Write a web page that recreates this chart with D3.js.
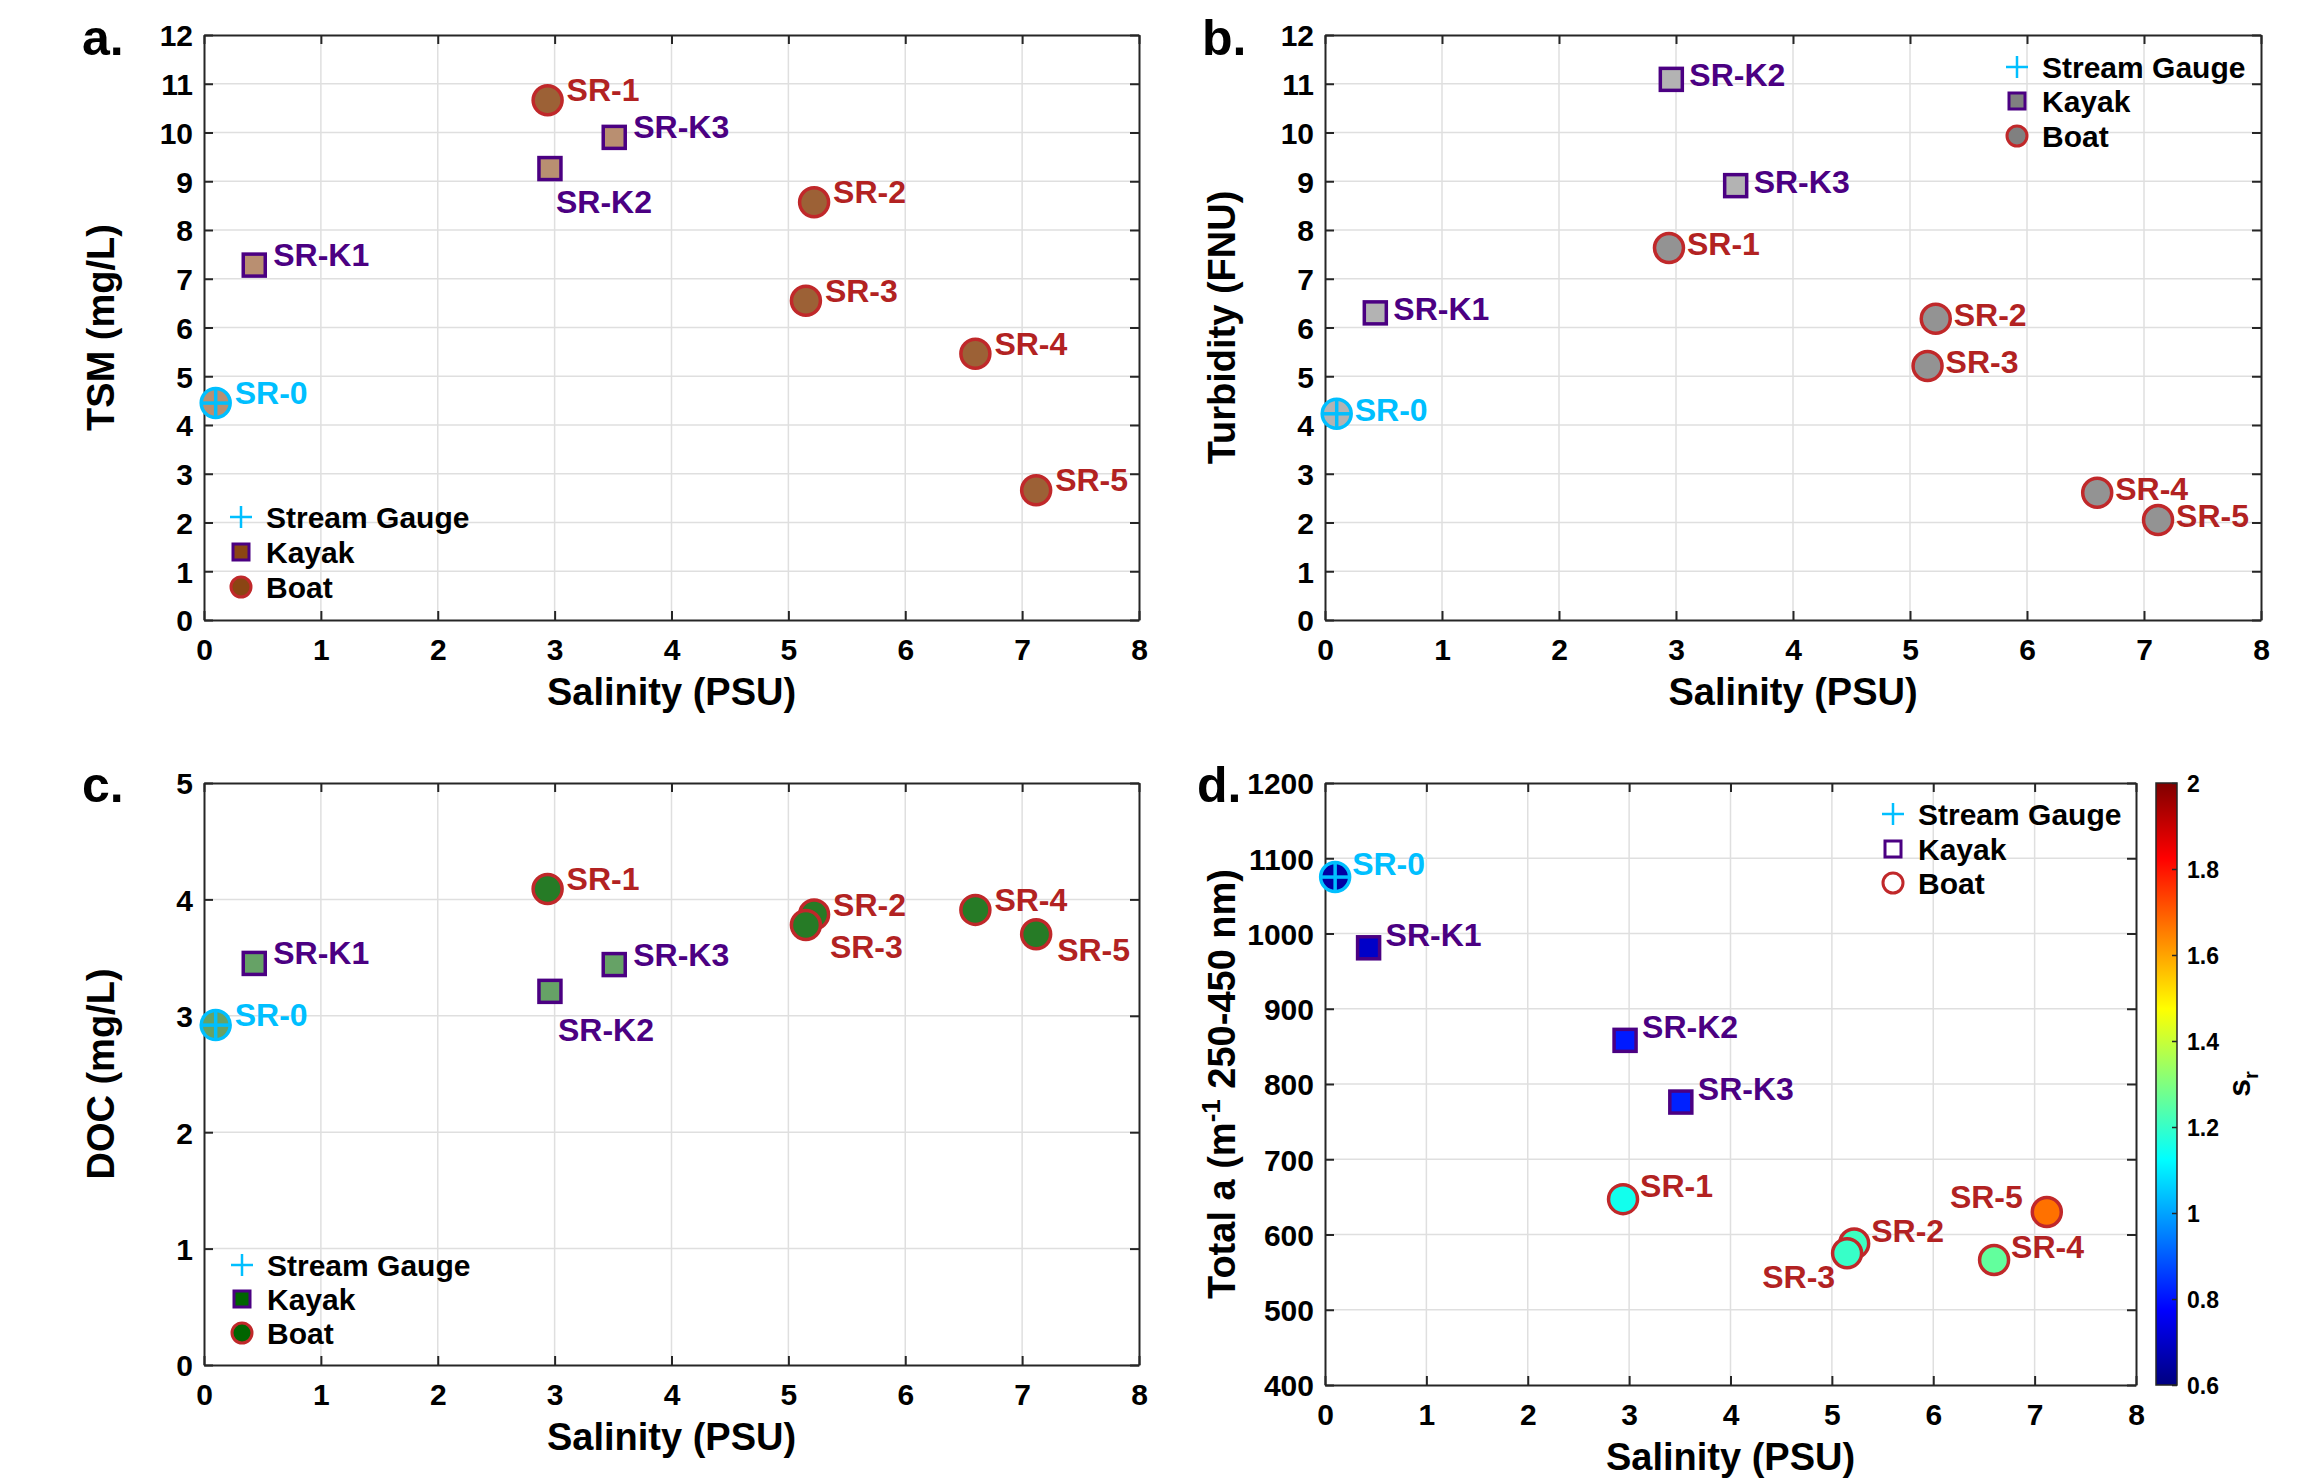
<!DOCTYPE html>
<html><head><meta charset="utf-8">
<script src="https://cdn.jsdelivr.net/npm/d3@7"></script>
<style>
body{margin:0;background:#fff}
text{font-family:"Liberation Sans",Arial,Helvetica,sans-serif;font-weight:bold}
</style>
</head><body>
<script>
// ---------------- DATA ----------------
const stations  = ["SR-0","SR-K1","SR-K2","SR-K3","SR-1","SR-2","SR-3","SR-4","SR-5"];
const platform  = ["Stream Gauge","Kayak","Kayak","Kayak","Boat","Boat","Boat","Boat","Boat"];
const salinity  = [0.10, 0.43, 2.96, 3.51, 2.94, 5.22, 5.15, 6.60, 7.12];
const tsm       = [4.45, 7.28, 9.26, 9.90, 10.66, 8.57, 6.55, 5.46, 2.66];
const turbidity = [4.23, 6.30, 11.09, 8.91, 7.63, 6.18, 5.21, 2.61, 2.05];
const doc       = [2.92, 3.45, 3.21, 3.44, 4.09, 3.87, 3.78, 3.91, 3.70];
const totalA    = [1075, 981, 858, 776, 647, 588, 575, 566, 630];
const sr        = [0.65, 0.70, 0.81, 0.82, 1.15, 1.21, 1.20, 1.26, 1.67];

const xTicks   = [0,1,2,3,4,5,6,7,8];
const yTicksA  = [0,1,2,3,4,5,6,7,8,9,10,11,12];
const yTicksB  = [0,1,2,3,4,5,6,7,8,9,10,11,12];
const yTicksC  = [0,1,2,3,4,5];
const yTicksD  = [400,500,600,700,800,900,1000,1100,1200];
const cbTicks  = [0.6,0.8,1,1.2,1.4,1.6,1.8,2];
const legendLabels = ["Stream Gauge","Kayak","Boat"];

// ---------------- STYLE ----------------
const W = 2304, H = 1481;
const AX = "#262626", GRID = "#dfdfdf";
const CYAN = "#00BFFF", PURPLE = "#4B0082", BOATEDGE = "#C0282A", BOATTXT = "#B22222";
const FONT_TICK = 30, FONT_TITLE = 38, FONT_LAB = 32, FONT_LEG = 30, FONT_LETTER = 50;

function jet(v){
  const t = Math.max(0, Math.min(1, v));
  const c = x => Math.max(0, Math.min(1, x));
  return d3.rgb(255*c(1.5-Math.abs(4*t-3)), 255*c(1.5-Math.abs(4*t-2)), 255*c(1.5-Math.abs(4*t-1))).formatHex();
}
const srColor = d3.scaleLinear().domain([0.6, 2]).range([0,1]);

const svg = d3.select("body").append("svg").attr("width", W).attr("height", H);

const panels = [
  {letter:"a.", vals:tsm, ydom:[0,12], yt:yTicksA, title:"TSM (mg/L)",
   box:{l:204,r:1139,t:35,b:620}, base:"#8B4513", leg:{corner:"bl", dx:37, rows:[-103,-68,-33]},
   lab:{def:[19,1,"start"], "SR-K2":[6,44,"start"]}},
  {letter:"b.", vals:turbidity, ydom:[0,12], yt:yTicksB, title:"Turbidity (FNU)",
   box:{l:1325,r:2261,t:35,b:620}, base:"#808080", leg:{corner:"tr", dx:-244, rows:[32,66,101]},
   lab:{def:[18,7,"start"]}},
  {letter:"c.", vals:doc, ydom:[0,5], yt:yTicksC, title:"DOC (mg/L)",
   box:{l:204,r:1139,t:783,b:1365}, base:"#006400", leg:{corner:"bl", dx:38, rows:[-100,-66,-32]},
   lab:{def:[19,1,"start"], "SR-K2":[8,50,"start"], "SR-3":[24,33,"start"], "SR-5":[21,27,"start"]}},
  {letter:"d.", vals:totalA, ydom:[400,1200], yt:yTicksD, title:null,
   box:{l:1325,r:2136,t:783,b:1385}, base:null, leg:{corner:"tr", dx:-243, rows:[31,66,100]},
   lab:{def:[17,-2,"start"], "SR-3":[-12,35,"end"], "SR-5":[-24,-4,"end"]}}
];

function labelColor(p){ return p==="Stream Gauge" ? CYAN : (p==="Kayak" ? PURPLE : BOATTXT); }
function edgeColor(p){ return p==="Stream Gauge" ? CYAN : (p==="Kayak" ? PURPLE : BOATEDGE); }

panels.forEach((P, pi) => {
  const g = svg.append("g");
  const {l,r,t,b} = P.box;
  const x = d3.scaleLinear().domain([0,8]).range([l,r]);
  const y = d3.scaleLinear().domain(P.ydom).range([b,t]);

  // grid
  g.selectAll(null).data(xTicks.slice(1,-1)).enter().append("line")
    .attr("x1", d=>x(d)).attr("x2", d=>x(d)).attr("y1", t).attr("y2", b)
    .attr("stroke", GRID).attr("stroke-width", 1.5);
  g.selectAll(null).data(P.yt.slice(1,-1)).enter().append("line")
    .attr("y1", d=>y(d)).attr("y2", d=>y(d)).attr("x1", l).attr("x2", r)
    .attr("stroke", GRID).attr("stroke-width", 1.5);

  // axes via d3 axis (ticks inside), on all four sides
  const tl = 9;
  const axB = g.append("g").attr("transform",`translate(0,${b})`)
    .call(d3.axisBottom(x).tickValues(xTicks).tickSizeInner(-tl).tickSizeOuter(0).tickPadding(10).tickFormat(d3.format("d")));
  const axT = g.append("g").attr("transform",`translate(0,${t})`)
    .call(d3.axisTop(x).tickValues(xTicks).tickSizeInner(-tl).tickSizeOuter(0).tickFormat(""));
  const axL = g.append("g").attr("transform",`translate(${l},0)`)
    .call(d3.axisLeft(y).tickValues(P.yt).tickSizeInner(-tl).tickSizeOuter(0).tickPadding(11).tickFormat(d3.format("d")));
  const axR = g.append("g").attr("transform",`translate(${r},0)`)
    .call(d3.axisRight(y).tickValues(P.yt).tickSizeInner(-tl).tickSizeOuter(0).tickFormat(""));
  [axB,axT,axL,axR].forEach(a => {
    a.selectAll(".domain").attr("stroke", AX).attr("stroke-width", 2);
    a.selectAll(".tick line").attr("stroke", AX).attr("stroke-width", 2);
    a.selectAll("text").attr("fill","#000").style("font-size", FONT_TICK+"px")
      .style("font-family",'"Liberation Sans",Arial,sans-serif').style("font-weight","bold");
  });
  axB.selectAll(".tick text").attr("dy", null).attr("y", 40).attr("dominant-baseline","auto");
  axL.selectAll(".tick text").attr("dy","0.36em");

  // x title
  g.append("text").attr("x",(l+r)/2).attr("y", b+85).attr("text-anchor","middle")
    .style("font-size",FONT_TITLE+"px").text("Salinity (PSU)");
  // y title
  const ty = g.append("text").attr("transform",`translate(${l-90},${(t+b)/2}) rotate(-90)`)
    .attr("text-anchor","middle").style("font-size",FONT_TITLE+"px");
  if (P.title) ty.text(P.title);
  else {
    ty.append("tspan").text("Total a (m");
    ty.append("tspan").attr("dy",-15).style("font-size","26px").text("-1");
    ty.append("tspan").attr("dy",15).text(" 250-450 nm)");
  }
  // panel letter
  g.append("text").attr("x", pi%2===0 ? 82 : (pi===1?1202:1197)).attr("y", pi<2 ? 55 : 802)
    .style("font-size",FONT_LETTER+"px").text(P.letter);

  // markers
  const idx = d3.range(stations.length);
  const fillFor = (i) => {
    if (!P.base) return jet(srColor(sr[i]));
    const c = d3.rgb(P.base); const a = platform[i]==="Boat" ? 0.85 : 0.6;
    return d3.rgb(255+(c.r-255)*a, 255+(c.g-255)*a, 255+(c.b-255)*a).formatHex();
  };
  const R = 14.5, SQ = 22, SW = 3.5;
  idx.forEach(i => {
    const cx = x(salinity[i]), cy = y(P.vals[i]), p = platform[i];
    if (p === "Kayak") {
      g.append("rect").attr("x",cx-SQ/2).attr("y",cy-SQ/2).attr("width",SQ).attr("height",SQ)
        .attr("fill",fillFor(i)).attr("stroke",PURPLE).attr("stroke-width",SW);
    } else {
      g.append("circle").attr("cx",cx).attr("cy",cy).attr("r",R)
        .attr("fill",fillFor(i)).attr("stroke",edgeColor(p)).attr("stroke-width",SW);
      if (p === "Stream Gauge") {
        g.append("line").attr("x1",cx-R).attr("x2",cx+R).attr("y1",cy).attr("y2",cy).attr("stroke",CYAN).attr("stroke-width",3.5);
        g.append("line").attr("y1",cy-R).attr("y2",cy+R).attr("x1",cx).attr("x2",cx).attr("stroke",CYAN).attr("stroke-width",3.5);
      }
    }
  });
  // labels
  idx.forEach(i => {
    const o = P.lab[stations[i]] || P.lab.def;
    g.append("text").attr("x", x(salinity[i])+o[0]).attr("y", y(P.vals[i])+o[1])
      .attr("text-anchor", o[2]).attr("fill", labelColor(platform[i]))
      .style("font-size",FONT_LAB+"px").text(stations[i]);
  });

  // legend
  const L = P.leg;
  const lx = L.corner==="bl" ? l+L.dx : r+L.dx;
  const rowY = L.rows.map(v => L.corner==="bl" ? b+v : t+v);
  legendLabels.forEach((name, k) => {
    const yy = rowY[k];
    if (name==="Stream Gauge") {
      g.append("line").attr("x1",lx-11).attr("x2",lx+11).attr("y1",yy).attr("y2",yy).attr("stroke",CYAN).attr("stroke-width",2.5);
      g.append("line").attr("x1",lx).attr("x2",lx).attr("y1",yy-11).attr("y2",yy+11).attr("stroke",CYAN).attr("stroke-width",2.5);
    } else if (name==="Kayak") {
      g.append("rect").attr("x",lx-8).attr("y",yy-8).attr("width",16).attr("height",16)
        .attr("fill", P.base ? P.base : "none").attr("stroke",PURPLE).attr("stroke-width",3);
    } else {
      g.append("circle").attr("cx",lx).attr("cy",yy).attr("r",10)
        .attr("fill", P.base ? P.base : "none").attr("stroke",BOATEDGE).attr("stroke-width",3);
    }
    g.append("text").attr("x", lx+25).attr("y", yy).attr("dy","0.36em")
      .style("font-size",FONT_LEG+"px").attr("fill","#000").text(name);
  });

  // colorbar for panel d
  if (!P.base) {
    const cbL = 2156, cbR = 2177;
    const cbY = d3.scaleLinear().domain([0.6,2]).range([b,t]);
    const defs = svg.append("defs");
    const grad = defs.append("linearGradient").attr("id","jetgrad").attr("x1",0).attr("y1",1).attr("x2",0).attr("y2",0);
    d3.range(0,1.0001,1/64).forEach(s => grad.append("stop").attr("offset",s).attr("stop-color",jet(s)));
    g.append("rect").attr("x",cbL).attr("y",t).attr("width",cbR-cbL).attr("height",b-t)
      .attr("fill","url(#jetgrad)").attr("stroke",AX).attr("stroke-width",1.5);
    const cax = g.append("g").attr("transform",`translate(${cbR},0)`)
      .call(d3.axisRight(cbY).tickValues(cbTicks).tickSizeInner(-5).tickSizeOuter(0).tickPadding(10).tickFormat(d3.format("")));
    cax.select(".domain").remove();
    cax.selectAll(".tick line").attr("stroke",AX).attr("stroke-width",1.5);
    cax.selectAll("text").attr("fill","#000").attr("dy","0.36em").style("font-size","23px")
      .style("font-family",'"Liberation Sans",Arial,sans-serif').style("font-weight","bold");
    const st = g.append("text").attr("transform",`translate(2250,${(t+b)/2}) rotate(-90)`)
      .attr("text-anchor","middle").style("font-size","32px");
    st.append("tspan").text("s");
    st.append("tspan").attr("dy",8).style("font-size","20px").text("r");
  }
});
</script>
</body></html>
